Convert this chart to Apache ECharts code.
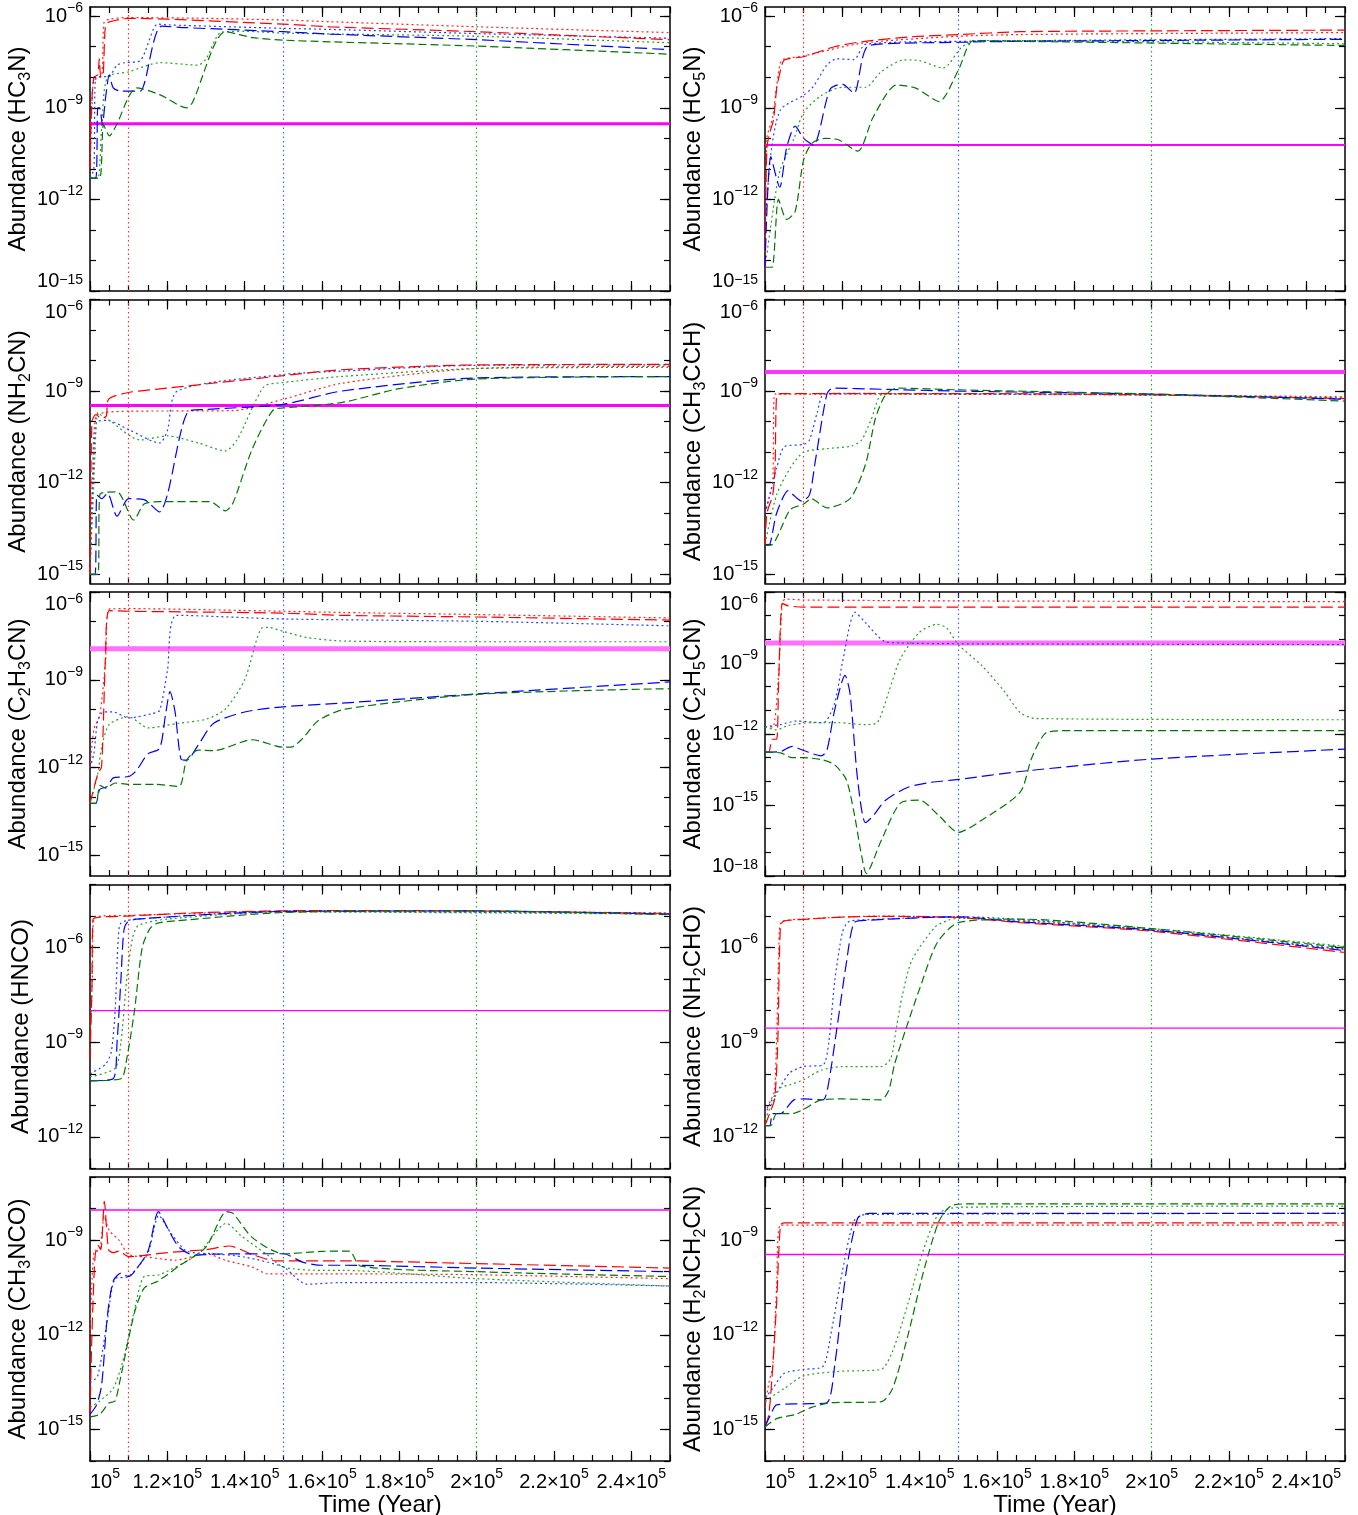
<!DOCTYPE html>
<html><head><meta charset="utf-8">
<script src="https://cdn.jsdelivr.net/npm/echarts@6/dist/echarts.min.js"></script>
<style>html,body{margin:0;padding:0;background:#fff}#c{width:1358px;height:1515px}</style>
</head><body><div id="c"></div>
<script>
// ---------------- DATA ----------------
const TIME_LABEL_TICKS = [100000,120000,140000,160000,180000,200000,220000,240000];
const MARKER_TIMES = [110000,150000,200000];
const MOLECULES = [['HC','3','N'],['HC','5','N'],['NH','2','CN'],['CH','3','CCH'],['C','2','H','3','CN'],['C','2','H','5','CN'],['HNCO'],['NH','2','CHO'],['CH','3','NCO'],['H','2','NCH','2','CN']];
const Y_RANGES = [[1e-15,2e-6],[1e-15,2e-6],[5e-16,1e-6],[5e-16,1e-6],[2e-16,1e-6],[1e-18,1e-6],[1e-13,1e-4],[1e-13,1e-4],[1e-16,1e-7],[1e-16,1e-7]];
const Y_LABEL_DECADES = [[-15,-12,-9,-6],[-15,-12,-9,-6],[-15,-12,-9,-6],[-15,-12,-9,-6],[-15,-12,-9,-6],[-18,-15,-12,-9,-6],[-12,-9,-6],[-12,-9,-6],[-15,-12,-9],[-15,-12,-9]];
const OBS_VALUES = [3e-10,6e-11,3.4e-10,4.2e-9,1.15e-8,7e-9,1e-8,2.8e-9,9e-9,3.5e-10];

// HC3N
const HC3N_RD=[[100e3,1e-11],[100.4e3,1e-9],[101e3,1e-8],[102e3,1.2e-8],[102.4e3,4e-8],[102.8e3,1e-8],[103.4e3,1.2e-8],[104e3,5e-7],[105e3,6.5e-7],[110e3,8.5e-7],[120e3,8e-7],[150e3,5.5e-7],[162e3,4.5e-7],[200e3,3.1e-7],[250e3,1.7e-7]];
const HC3N_Rd=[[100e3,1e-11],[100.5e3,1e-9],[101e3,8e-9],[103e3,1.1e-8],[103.6e3,6e-7],[105e3,8e-7],[110e3,9e-7],[130e3,8.5e-7],[150e3,7.5e-7],[162e3,6.6e-7],[200e3,4.5e-7],[250e3,2.9e-7]];
const HC3N_BD=[[100e3,5e-12],[101.5e3,5e-12],[102e3,1e-9],[102.5e3,1e-9],[103.2e3,2.8e-10],[104e3,2e-9],[105e3,1.2e-8],[106e3,4.5e-9],[108e3,3.5e-9],[113e3,3.5e-9],[114e3,6e-9],[118.5e3,4.7e-7],[125e3,4.2e-7],[150e3,3.1e-7],[162e3,2.6e-7],[200e3,1.7e-7],[250e3,8e-8]];
const HC3N_Bd=[[100e3,5e-12],[101e3,1e-11],[101.5e3,1e-8],[105e3,1.1e-8],[107e3,2.5e-8],[109e3,3e-8],[113e3,3.5e-8],[117.5e3,5.5e-7],[120e3,5.2e-7],[150e3,4e-7],[162e3,3.7e-7],[200e3,2.7e-7],[250e3,1.9e-7]];
const HC3N_GD=[[100e3,5e-12],[102.5e3,5e-12],[103.5e3,2.8e-10],[105e3,1.2e-10],[107e3,3e-10],[110e3,2.3e-9],[112e3,4.5e-9],[118e3,2.7e-9],[125e3,1e-9],[126.5e3,1.5e-9],[135e3,3.1e-7],[142e3,2e-7],[150e3,1.65e-7],[162e3,1.45e-7],[200e3,1.05e-7],[250e3,5.7e-8]];
const HC3N_Gd=[[100e3,5e-12],[102e3,5e-12],[103e3,2e-10],[104.5e3,1e-8],[110e3,1.5e-8],[118e3,3e-8],[128e3,2.5e-8],[130e3,4e-8],[134e3,3e-7],[140e3,3.2e-7],[150e3,2.8e-7],[200e3,2.2e-7],[250e3,1.35e-7]];
// HC5N
const HC5N_RD=[[100e3,6e-15],[100.5e3,5e-11],[101.5e3,2e-10],[102.2e3,4e-10],[103e3,4e-9],[104e3,1.7e-8],[105e3,3.7e-8],[110e3,4.7e-8],[118e3,1e-7],[125e3,1.45e-7],[137.5e3,2.1e-7],[150e3,2.5e-7],[166e3,3.1e-7],[200e3,3.3e-7],[250e3,3.5e-7]];
const HC5N_Rd=[[100e3,6e-15],[100.5e3,1e-10],[102e3,5e-10],[103e3,5e-9],[104e3,3e-8],[105e3,4e-8],[110e3,5e-8],[125e3,1.3e-7],[150e3,2.2e-7],[166e3,2.5e-7],[200e3,2.7e-7],[250e3,2.9e-7]];
const HC5N_BD=[[100e3,6e-15],[101.5e3,2.5e-11],[103.8e3,2.5e-12],[105.6e3,5e-11],[107.8e3,2.5e-10],[110e3,1e-10],[112.5e3,6e-11],[116.8e3,4e-9],[120e3,6e-9],[123e3,3e-9],[127e3,1.1e-7],[150e3,1.4e-7],[166e3,1.5e-7],[250e3,1.75e-7]];
const HC5N_Bd=[[100e3,1e-13],[101.5e3,3e-11],[104e3,8.5e-10],[110e3,2.6e-9],[112.5e3,5e-9],[116e3,2.5e-8],[118.5e3,4e-8],[123e3,3.8e-8],[126e3,1.2e-7],[150e3,1.5e-7],[250e3,1.85e-7]];
const HC5N_GD=[[100e3,6e-15],[101.8e3,6e-15],[103.5e3,1e-12],[105.6e3,2.2e-13],[107.8e3,4e-13],[110e3,2e-11],[112.2e3,7e-11],[115.5e3,1e-10],[119e3,9e-11],[124e3,3.8e-11],[128e3,5e-10],[134e3,5.6e-9],[139e3,4.4e-9],[145e3,1.6e-9],[150e3,1.7e-8],[154e3,1.6e-7],[166e3,1.5e-7],[250e3,1.1e-7]];
const HC5N_Gd=[[100e3,6e-15],[102.5e3,1e-12],[104e3,1e-11],[107.5e3,1e-10],[110e3,7e-10],[114.5e3,2.5e-9],[120e3,4.7e-9],[126e3,4.7e-9],[130e3,1.5e-8],[136e3,3.7e-8],[140e3,3.5e-8],[146e3,2e-8],[151e3,1e-7],[155e3,1.6e-7],[250e3,1.25e-7]];
// NH2CN
const NH2CN_RD=[[100e3,1e-15],[100.5e3,1e-10],[101.5e3,1.7e-10],[103e3,1.3e-10],[104.2e3,1.5e-10],[104.8e3,5.4e-10],[110e3,9e-10],[120e3,1.25e-9],[150e3,3.2e-9],[165e3,5e-9],[200e3,7.2e-9],[250e3,7.5e-9]];
const NH2CN_Rd=[[100e3,1e-15],[100.6e3,1e-12],[101.5e3,1.5e-10],[104e3,2e-10],[110e3,2.2e-10],[137e3,2.3e-10],[150e3,5.4e-10],[165e3,1.8e-9],[200e3,5.5e-9],[250e3,6.5e-9]];
const NH2CN_BD=[[100e3,1e-15],[101.3e3,1e-15],[101.8e3,4e-13],[103e3,3e-13],[104.5e3,4.5e-13],[107e3,8e-14],[110e3,3e-13],[114e3,2.8e-13],[118e3,1.1e-13],[120e3,4e-13],[125.5e3,2.2e-10],[130e3,2.5e-10],[150e3,3.7e-10],[165e3,1e-9],[200e3,2.7e-9],[250e3,3e-9]];
const NH2CN_Bd=[[100e3,1e-15],[100.8e3,1e-12],[101.8e3,1e-10],[104.5e3,1.1e-10],[110e3,5.5e-11],[118e3,2e-11],[120e3,5e-11],[122.6e3,1e-9],[150e3,3.5e-9],[165e3,4.5e-9],[200e3,7e-9],[250e3,7.2e-9]];
const NH2CN_GD=[[100e3,1e-15],[102e3,1e-15],[102.6e3,4.3e-13],[107e3,5e-13],[111.3e3,6e-14],[114e3,2e-13],[118e3,2.4e-13],[131e3,2.4e-13],[135e3,1.2e-13],[137e3,2.2e-13],[142e3,1.3e-11],[147.5e3,2.5e-10],[150e3,2.8e-10],[165e3,4.2e-10],[180e3,1.2e-9],[200e3,2.5e-9],[250e3,3e-9]];
const NH2CN_Gd=[[100e3,1e-15],[101e3,1e-12],[102e3,2e-10],[103e3,1.6e-10],[105e3,1.1e-10],[113e3,2.5e-11],[120e3,3.4e-11],[128e3,2e-11],[135e3,1.1e-11],[138e3,2.5e-11],[145e3,1.4e-9],[150e3,1.9e-9],[165e3,3e-9],[200e3,5.5e-9],[250e3,6e-9]];
// CH3CCH
const CH3CCH_RD=[[100e3,9e-15],[100.5e3,1e-13],[102e3,4e-13],[102.6e3,3e-12],[103e3,7e-10],[104e3,8.3e-10],[150e3,8.3e-10],[200e3,7.5e-10],[250e3,5.7e-10]];
const CH3CCH_Rd=[[100e3,1e-13],[101e3,3e-13],[102e3,1e-12],[102.5e3,8e-10],[104e3,8e-10],[150e3,7.8e-10],[200e3,7.5e-10],[250e3,6.5e-10]];
const CH3CCH_BD=[[100e3,9e-15],[101e3,9e-15],[103e3,1e-13],[106e3,5.5e-13],[107.8e3,3.5e-13],[109.5e3,2.5e-13],[111.5e3,4e-13],[113e3,5e-12],[116e3,8e-10],[117.5e3,1.25e-9],[130e3,1.15e-9],[150e3,1e-9],[200e3,8e-10],[250e3,5.4e-10]];
const CH3CCH_Bd=[[100e3,1e-13],[101e3,3e-13],[103e3,3e-12],[105e3,1.5e-11],[110e3,1.8e-11],[111.5e3,2.5e-11],[113.5e3,2e-10],[115e3,8e-10],[117e3,8.5e-10],[150e3,8e-10],[200e3,7.5e-10],[250e3,5.6e-10]];
const CH3CCH_GD=[[100e3,9e-15],[101.5e3,9e-15],[106.5e3,1.3e-13],[110e3,2e-13],[112e3,3e-13],[116e3,1.5e-13],[122e3,3e-13],[126e3,4e-12],[128.5e3,1.2e-10],[131e3,7e-10],[134e3,1.25e-9],[150e3,1.1e-9],[200e3,8e-10],[250e3,4.7e-10]];
const CH3CCH_Gd=[[100e3,1e-14],[103e3,4e-13],[106.5e3,3e-12],[110e3,1e-11],[116e3,1.3e-11],[122.5e3,1.6e-11],[125e3,2.5e-11],[127.5e3,1.2e-10],[130.5e3,8e-10],[150e3,8.2e-10],[200e3,7.5e-10],[250e3,6e-10]];
// C2H3CN
const C2H3CN_RD=[[100e3,6e-14],[102e3,6e-13],[103e3,1.1e-12],[104e3,6e-9],[105e3,2.3e-7],[110e3,2.2e-7],[150e3,1.9e-7],[165e3,1.6e-7],[200e3,1.4e-7],[250e3,1.1e-7]];
const C2H3CN_Rd=[[100e3,1e-12],[101e3,2e-11],[102.5e3,6e-11],[104e3,4e-9],[105e3,2.6e-7],[110e3,2.7e-7],[150e3,2.2e-7],[165e3,2e-7],[200e3,1.7e-7],[250e3,1.3e-7]];
const C2H3CN_BD=[[100e3,6e-14],[101.5e3,6e-14],[102.5e3,1.8e-13],[104.5e3,2.3e-13],[106e3,4.5e-13],[110e3,5e-13],[112e3,8e-13],[115e3,3e-12],[118e3,4.5e-12],[119.5e3,6e-11],[120.7e3,4e-10],[122e3,8e-11],[123.5e3,2e-12],[125e3,1.8e-12],[128e3,6e-12],[132e3,3.3e-11],[140e3,8e-11],[150e3,1.2e-10],[165e3,1.6e-10],[200e3,3.3e-10],[250e3,8.5e-10]];
const C2H3CN_Bd=[[100e3,1e-12],[101e3,3e-12],[102e3,4e-11],[103.5e3,8e-11],[106e3,8e-11],[110e3,5e-11],[116e3,7e-11],[118e3,9e-11],[120e3,2e-9],[122.5e3,1.6e-7],[150e3,1.2e-7],[200e3,1e-7],[250e3,7e-8]];
const C2H3CN_GD=[[100e3,6e-14],[101.5e3,6e-14],[102.6e3,2.5e-13],[104e3,2e-13],[106.5e3,3e-13],[110e3,2.7e-13],[117e3,2.7e-13],[123e3,2.3e-13],[125e3,1.8e-12],[128e3,4e-12],[132e3,3.8e-12],[142e3,9e-12],[150e3,5e-12],[152e3,5e-12],[155e3,1e-11],[159e3,4e-11],[166e3,1e-10],[200e3,3.2e-10],[250e3,5e-10]];
const C2H3CN_Gd=[[100e3,6e-14],[102e3,6e-13],[103e3,5e-12],[105e3,3e-11],[110e3,5.5e-11],[115e3,2.3e-11],[123e3,3.3e-11],[130e3,4.5e-11],[135e3,1e-10],[140e3,1e-9],[144.5e3,6e-8],[146e3,6.2e-8],[150e3,4.5e-8],[156e3,2.8e-8],[166e3,2.1e-8],[200e3,2e-8],[250e3,2e-8]];
// C2H5CN
const C2H5CN_RD=[[100e3,1.7e-13],[101e3,1.7e-13],[101.8e3,6e-13],[103e3,6e-13],[103.5e3,1e-10],[104.5e3,3.3e-7],[106e3,2.6e-7],[110e3,2.3e-7],[250e3,2.3e-7]];
const C2H5CN_Rd=[[100e3,2e-12],[102e3,2e-12],[103.5e3,3e-10],[104.5e3,4e-7],[105.5e3,5e-7],[110e3,4.6e-7],[150e3,4.2e-7],[250e3,3.9e-7]];
const C2H5CN_BD=[[100e3,1.7e-13],[104e3,1.8e-13],[107e3,3e-13],[110e3,2e-13],[114.5e3,1.2e-13],[116e3,2e-13],[118e3,1e-11],[120.7e3,3e-10],[122e3,5e-11],[124e3,1e-14],[126e3,1.8e-16],[128e3,3.5e-16],[131e3,1.5e-15],[137e3,5.6e-15],[143e3,9e-15],[150e3,1.2e-14],[166e3,2.6e-14],[200e3,8.7e-14],[250e3,2.3e-13]];
const C2H5CN_Bd=[[100e3,2e-12],[104e3,2.5e-12],[108e3,3.5e-12],[115e3,3e-12],[118e3,2e-11],[120e3,1e-9],[123.3e3,1.4e-7],[126e3,5e-8],[131e3,8e-9],[135e3,7e-9],[150e3,6.5e-9],[250e3,6e-9]];
const C2H5CN_GD=[[100e3,1.7e-13],[104e3,1.6e-13],[107e3,1e-13],[110e3,1e-13],[115e3,8e-14],[118e3,5e-14],[121e3,1.2e-14],[123e3,5e-16],[125e3,7e-18],[126.2e3,1.3e-18],[130e3,3e-17],[135e3,1.2e-15],[140e3,1.6e-15],[145e3,3.5e-16],[150e3,7e-17],[155.5e3,2e-16],[166e3,3.5e-15],[169e3,1e-13],[173e3,1.2e-12],[180e3,1.4e-12],[250e3,1.4e-12]];
const C2H5CN_Gd=[[100e3,2e-12],[103e3,1.5e-12],[106e3,2.3e-12],[112e3,3e-12],[119e3,3e-12],[126e3,2.5e-12],[129e3,3e-12],[132e3,6e-11],[135e3,1.5e-9],[140e3,2e-8],[144.5e3,4.3e-8],[147e3,3e-8],[150e3,6e-9],[156e3,8e-10],[162e3,6e-11],[166e3,8e-12],[170e3,4.5e-12],[250e3,4e-12]];
// HNCO
const HNCO_RD=[[100e3,3e-10],[100.5e3,5e-8],[100.8e3,8e-6],[110e3,1e-5],[130e3,1.3e-5],[160e3,1.5e-5],[200e3,1.45e-5],[250e3,1.2e-5]];
const HNCO_Rd=[[100e3,1e-9],[100.6e3,1e-7],[101e3,9e-6],[110e3,1.05e-5],[160e3,1.5e-5],[250e3,1.25e-5]];
const HNCO_BD=[[100e3,6e-11],[106e3,7e-11],[107e3,1e-9],[108e3,1e-7],[108.7e3,3e-6],[109.5e3,6e-6],[112e3,8e-6],[150e3,1.4e-5],[200e3,1.45e-5],[250e3,1.15e-5]];
const HNCO_Bd=[[100e3,1e-10],[104e3,2e-10],[105.5e3,5e-10],[106.5e3,1e-8],[107.3e3,2e-6],[108e3,6e-6],[112e3,8e-6],[150e3,1.4e-5],[250e3,1.2e-5]];
const HNCO_GD=[[100e3,6e-11],[108e3,7e-11],[109.5e3,3e-10],[111.5e3,1e-8],[113.5e3,1e-6],[115.5e3,4e-6],[117.5e3,6e-6],[122e3,7e-6],[150e3,1.3e-5],[200e3,1.45e-5],[250e3,1.1e-5]];
const HNCO_Gd=[[100e3,8e-11],[106.5e3,1.5e-10],[108e3,1e-9],[109.5e3,1e-7],[111e3,2e-6],[112.5e3,5e-6],[120e3,8e-6],[150e3,1.35e-5],[250e3,1.15e-5]];
// NH2CHO
const NH2CHO_RD=[[100e3,2.3e-12],[101.3e3,6e-12],[102.5e3,1.6e-11],[103.3e3,1e-9],[104e3,5e-6],[105e3,7e-6],[110e3,7.8e-6],[120e3,9.3e-6],[130e3,9.8e-6],[150e3,9e-6],[166e3,6.2e-6],[200e3,3.3e-6],[250e3,7e-7]];
const NH2CHO_Rd=[[100e3,6e-12],[101.3e3,1.3e-11],[102.5e3,3e-11],[103.5e3,3e-7],[104e3,6e-6],[110e3,8e-6],[130e3,1e-5],[150e3,9e-6],[200e3,3.5e-6],[250e3,8.5e-7]];
const NH2CHO_BD=[[100e3,2.3e-12],[101.2e3,2.3e-12],[102e3,5.5e-12],[104e3,5.5e-12],[107.5e3,1.5e-11],[110e3,1.6e-11],[115e3,1.5e-11],[116.3e3,4e-11],[118.6e3,2.8e-9],[121e3,3e-7],[123e3,6e-6],[126e3,7.3e-6],[150e3,9.5e-6],[166e3,6.5e-6],[200e3,3.6e-6],[250e3,8e-7]];
const NH2CHO_Bd=[[100e3,5e-12],[101.5e3,1.3e-11],[104e3,4e-11],[106.5e3,1.1e-10],[110e3,1.7e-10],[115e3,1.9e-10],[116.5e3,1e-9],[118e3,8e-8],[120e3,3e-6],[121.5e3,6.5e-6],[125e3,7.5e-6],[150e3,9.5e-6],[200e3,3.6e-6],[250e3,9e-7]];
const NH2CHO_GD=[[100e3,2.3e-12],[101.5e3,2.3e-12],[103e3,5.5e-12],[107e3,5.5e-12],[110e3,7.5e-12],[114.5e3,1.5e-11],[120e3,1.6e-11],[130e3,1.5e-11],[132e3,3e-11],[133.5e3,2e-10],[136.5e3,2.8e-9],[140e3,5e-8],[144.5e3,1.4e-6],[150e3,6.2e-6],[166e3,8e-6],[200e3,4e-6],[250e3,1e-6]];
const NH2CHO_Gd=[[100e3,3.5e-12],[102e3,1.3e-11],[104e3,3.6e-11],[106.5e3,4.5e-11],[110e3,6.5e-11],[114.5e3,1.3e-10],[120e3,1.7e-10],[130e3,1.7e-10],[132.5e3,3e-10],[134e3,3e-9],[135.5e3,3e-8],[138e3,4e-7],[144e3,4.5e-6],[147.5e3,7.5e-6],[150e3,8.5e-6],[200e3,4e-6],[250e3,1.1e-6]];
// CH3NCO
const CH3NCO_RD=[[100e3,3e-15],[100.5e3,1e-12],[101.3e3,3e-10],[102e3,7e-10],[102.8e3,5e-10],[103.7e3,1.7e-8],[104.8e3,5e-10],[106e3,4e-10],[107.5e3,4.5e-10],[110e3,3e-10],[120e3,4e-10],[130e3,5e-10],[136e3,6.5e-10],[142e3,3.5e-10],[148e3,2.2e-10],[165e3,2.2e-10],[200e3,1.8e-10],[250e3,1.3e-10]];
const CH3NCO_Rd=[[100e3,1e-12],[101e3,4e-10],[102.5e3,5e-10],[103.7e3,5.6e-9],[105e3,2e-9],[107.5e3,1e-9],[110e3,3.5e-10],[115e3,2.9e-10],[122e3,2.3e-10],[130e3,3.7e-10],[135e3,2.3e-10],[142e3,1.4e-10],[146e3,8.5e-11],[165e3,8.5e-11],[200e3,8e-11],[250e3,6e-11]];
const CH3NCO_BD=[[100e3,3e-15],[101.7e3,6e-15],[103e3,2.5e-14],[104.5e3,4e-12],[106e3,5e-11],[108e3,9e-11],[110e3,7e-11],[111.5e3,1e-10],[115e3,4.5e-10],[117.7e3,8e-9],[120e3,2.5e-9],[123e3,6e-10],[127e3,3.3e-10],[132e3,3.6e-10],[150e3,3.7e-10],[155e3,2e-10],[160e3,1.6e-10],[165e3,1.6e-10],[200e3,1.3e-10],[250e3,1e-10]];
const CH3NCO_Bd=[[100e3,3e-14],[102e3,5e-14],[104.5e3,3e-12],[106.5e3,6e-11],[110e3,7e-11],[115e3,4e-10],[117.8e3,6e-9],[121e3,1.6e-9],[125e3,4.5e-10],[132e3,3.7e-10],[140e3,2.9e-10],[150e3,1.4e-10],[156e3,4e-11],[165e3,4.5e-11],[200e3,4.5e-11],[250e3,3.5e-11]];
const CH3NCO_GD=[[100e3,2.5e-15],[102.5e3,3e-15],[105e3,7e-15],[106.5e3,8e-15],[108e3,5e-14],[111.5e3,5e-12],[114e3,3e-11],[117.5e3,5e-11],[120e3,8e-11],[123e3,1.5e-10],[130e3,6e-10],[135.3e3,8e-9],[137e3,7e-9],[142e3,1.2e-9],[150e3,3.7e-10],[160e3,4.4e-10],[167e3,4.5e-10],[170e3,1.5e-10],[200e3,1e-10],[250e3,7e-11]];
const CH3NCO_Gd=[[100e3,5e-15],[102.5e3,8e-15],[106e3,2e-14],[108.5e3,1.5e-13],[111.5e3,6e-12],[114e3,7e-11],[118e3,8e-11],[128e3,3.7e-10],[135.3e3,3.4e-9],[139e3,1.4e-9],[146e3,3.3e-10],[150e3,1.4e-10],[160e3,1.1e-10],[165e3,1.1e-10],[200e3,6e-11],[250e3,3.5e-11]];
// H2NCH2CN
const H2NCH2CN_RD=[[100e3,1.2e-15],[101e3,3e-15],[102e3,1e-13],[103e3,1e-11],[104e3,3e-9],[105e3,3.5e-9],[250e3,3.5e-9]];
const H2NCH2CN_Rd=[[100e3,5e-15],[101e3,3e-14],[102e3,1e-13],[103e3,3e-11],[104e3,3e-9],[250e3,3e-9]];
const H2NCH2CN_BD=[[100e3,1.2e-15],[101.5e3,3e-15],[103e3,6e-15],[110e3,6.5e-15],[116e3,7e-15],[118e3,1e-13],[121e3,1e-10],[124e3,5e-9],[127e3,7e-9],[250e3,7e-9]];
const H2NCH2CN_Bd=[[100e3,1e-14],[102e3,2e-14],[105e3,6e-14],[110e3,8e-14],[115e3,1e-13],[117e3,1e-12],[120e3,1e-10],[123e3,4e-9],[126e3,6.5e-9],[250e3,7e-9]];
const H2NCH2CN_GD=[[100e3,1.2e-15],[103e3,2.2e-15],[108e3,3e-15],[112e3,5e-15],[117e3,7e-15],[130e3,7.5e-15],[133e3,2e-14],[137e3,1e-12],[141e3,1e-10],[145e3,4e-9],[148e3,1.2e-8],[152e3,1.4e-8],[250e3,1.4e-8]];
const H2NCH2CN_Gd=[[100e3,8e-15],[105e3,2e-14],[110e3,5e-14],[120e3,7e-14],[130e3,8e-14],[133e3,3e-13],[137e3,1e-11],[141e3,5e-10],[145e3,7e-9],[150e3,1.1e-8],[250e3,1.2e-8]];

const MODEL_SETS = [
  [HC3N_RD,HC3N_Rd,HC3N_BD,HC3N_Bd,HC3N_GD,HC3N_Gd],
  [HC5N_RD,HC5N_Rd,HC5N_BD,HC5N_Bd,HC5N_GD,HC5N_Gd],
  [NH2CN_RD,NH2CN_Rd,NH2CN_BD,NH2CN_Bd,NH2CN_GD,NH2CN_Gd],
  [CH3CCH_RD,CH3CCH_Rd,CH3CCH_BD,CH3CCH_Bd,CH3CCH_GD,CH3CCH_Gd],
  [C2H3CN_RD,C2H3CN_Rd,C2H3CN_BD,C2H3CN_Bd,C2H3CN_GD,C2H3CN_Gd],
  [C2H5CN_RD,C2H5CN_Rd,C2H5CN_BD,C2H5CN_Bd,C2H5CN_GD,C2H5CN_Gd],
  [HNCO_RD,HNCO_Rd,HNCO_BD,HNCO_Bd,HNCO_GD,HNCO_Gd],
  [NH2CHO_RD,NH2CHO_Rd,NH2CHO_BD,NH2CHO_Bd,NH2CHO_GD,NH2CHO_Gd],
  [CH3NCO_RD,CH3NCO_Rd,CH3NCO_BD,CH3NCO_Bd,CH3NCO_GD,CH3NCO_Gd],
  [H2NCH2CN_RD,H2NCH2CN_Rd,H2NCH2CN_BD,H2NCH2CN_Bd,H2NCH2CN_GD,H2NCH2CN_Gd]
];

// ---------------- STYLE / LAYOUT ----------------
const FONT = "'Liberation Sans', Arial, Helvetica, sans-serif";
const X_MIN = 100000, X_MAX = 250000;
const LINE_STYLES = [
  {color:'#ff0000', type:[12,5]},
  {color:'#ff2020', type:[2,3]},
  {color:'#0000ff', type:[12,5]},
  {color:'#2040ff', type:[2,3]},
  {color:'#007800', type:[8,4]},
  {color:'#22a022', type:[2,3]}
];
const MARKER_COLORS = ['#ff3030','#3a6cff','#2aa82a'];
const OBS_WIDTH = [3,2,3,4,5,5,1.3,1.3,1.3,1.3];
const OBS_COLOR = ['#ff00ff','#ff00ff','#ff00ff','#ff33ff','#ff70ff','#ff70ff','#ff00ff','#ff00ff','#ff00ff','#ff00ff'];
const EDGE_LABEL = [{min:'bottom'},{min:'bottom'},{max:'top'},{max:'top'},{max:'top'},{min:'bottom',max:'top'},{},{},{},{}];

const C = {fontFamily:FONT, color:'#000'};
const NUM_RICH = {
  b:Object.assign({fontSize:20, lineHeight:30}, C),
  s:Object.assign({fontSize:14, lineHeight:18, verticalAlign:'top'}, C),
  bb:Object.assign({fontSize:20, lineHeight:16, verticalAlign:'bottom'}, C),
  sb:Object.assign({fontSize:14, lineHeight:18, verticalAlign:'top', padding:[0,0,6,0]}, C),
  bt:Object.assign({fontSize:20, lineHeight:25}, C),
  st:Object.assign({fontSize:14, lineHeight:12, verticalAlign:'top'}, C)
};
const NAME_RICH = {
  n:Object.assign({fontSize:24, lineHeight:30}, C),
  u:Object.assign({fontSize:16, lineHeight:16, verticalAlign:'bottom'}, C)
};

function xFmt(v){ const m = v/1e5; return (m===1 ? '{b|10}' : '{b|'+(+m.toFixed(1))+'×10}') + '{s|5}'; }
function makeYFmt(ymin, ymax){
  return function(v){
    const t = '−' + Math.abs(Math.round(Math.log10(v)));
    if (Math.abs(v/ymin-1) < 1e-6) return '{bb|10}{sb|'+t+'}';
    if (Math.abs(v/ymax-1) < 1e-6) return '{bt|10}{st|'+t+'}';
    return '{b|10}{s|'+t+'}';
  };
}
function molName(parts){
  let s='{n|Abundance (}';
  parts.forEach((p,i)=>{ s += (i%2===1) ? '{u|'+p+'}' : '{n|'+p+'}'; });
  return s+'{n|)}';
}

const minorX = []; for (let t = X_MIN; t <= X_MAX; t += 5000) minorX.push(t);

const grids=[], xAxes=[], yAxes=[], series=[];
const frameLine = {show:true, onZero:false, lineStyle:{color:'#000', width:1.5}};
const tickStyle = {color:'#000', width:1.2};

MOLECULES.forEach((mol,i)=>{
  const col=i%2, row=Math.floor(i/2);
  grids.push({left: col? 765:90, width:580, top: 7+row*292.5, height:284, containLabel:false, outerBoundsMode:'none'});
  const [ymin,ymax] = Y_RANGES[i];
  const labVals = Y_LABEL_DECADES[i].map(d=>Number('1e'+d));
  const minorY = [];
  for (let d=Math.ceil(Math.log10(ymin)-1e-9); d<=Math.floor(Math.log10(ymax)+1e-9); d++) minorY.push(Number('1e'+d));
  const xb = xAxes.length, yb = yAxes.length;
  const bottomRow = row===4;
  xAxes.push({gridIndex:i, type:'value', min:X_MIN, max:X_MAX, position:'bottom',
    axisLine:frameLine, splitLine:{show:false},
    axisTick:{show:true, inside:true, length:10, customValues:TIME_LABEL_TICKS, lineStyle:tickStyle},
    axisLabel:{show:bottomRow, customValues:TIME_LABEL_TICKS, formatter:xFmt, rich:NUM_RICH, margin:6, alignMinLabel:'left'},
    name: bottomRow ? 'Time (Year)' : '', nameLocation:'middle', nameGap:30,
    nameTextStyle:{fontSize:24, fontFamily:FONT, color:'#000'}});
  xAxes.push({gridIndex:i, type:'value', min:X_MIN, max:X_MAX, position:'bottom',
    axisLine:{show:false}, splitLine:{show:false}, axisLabel:{show:false},
    axisTick:{show:true, inside:true, length:6, customValues:minorX, lineStyle:tickStyle}});
  xAxes.push({gridIndex:i, type:'value', min:X_MIN, max:X_MAX, position:'top',
    axisLine:frameLine, splitLine:{show:false}, axisLabel:{show:false},
    axisTick:{show:true, inside:true, length:10, customValues:TIME_LABEL_TICKS, lineStyle:tickStyle}});
  xAxes.push({gridIndex:i, type:'value', min:X_MIN, max:X_MAX, position:'top',
    axisLine:{show:false}, splitLine:{show:false}, axisLabel:{show:false},
    axisTick:{show:true, inside:true, length:6, customValues:minorX, lineStyle:tickStyle}});
  const edge = EDGE_LABEL[i];
  const yLab = {show:true, customValues:labVals, formatter:makeYFmt(ymin,ymax), rich:NUM_RICH, margin:7};
  if (edge.min) yLab.verticalAlignMinLabel = edge.min;
  if (edge.max) yLab.verticalAlignMaxLabel = edge.max;
  yAxes.push({gridIndex:i, type:'log', logBase:10, min:ymin, max:ymax, position:'left',
    axisLine:frameLine, splitLine:{show:false}, minorTick:{show:false},
    axisTick:{show:true, inside:true, length:10, customValues:labVals, lineStyle:tickStyle},
    axisLabel:yLab,
    name: molName(mol), nameLocation:'middle', nameGap:54, nameRotate:90,
    nameTextStyle:{rich:NAME_RICH, fontSize:24, fontFamily:FONT}});
  yAxes.push({gridIndex:i, type:'log', logBase:10, min:ymin, max:ymax, position:'left',
    axisLine:{show:false}, splitLine:{show:false}, axisLabel:{show:false},
    axisTick:{show:true, inside:true, length:6, customValues:minorY, lineStyle:tickStyle}});
  yAxes.push({gridIndex:i, type:'log', logBase:10, min:ymin, max:ymax, position:'right',
    axisLine:frameLine, splitLine:{show:false}, axisLabel:{show:false},
    axisTick:{show:true, inside:true, length:10, customValues:labVals, lineStyle:tickStyle}});
  yAxes.push({gridIndex:i, type:'log', logBase:10, min:ymin, max:ymax, position:'right',
    axisLine:{show:false}, splitLine:{show:false}, axisLabel:{show:false},
    axisTick:{show:true, inside:true, length:6, customValues:minorY, lineStyle:tickStyle}});

  series.push({type:'line', xAxisIndex:xb, yAxisIndex:yb, z:2, silent:true, symbol:'none',
    data:[[X_MIN, OBS_VALUES[i]],[X_MAX, OBS_VALUES[i]]],
    lineStyle:{color:OBS_COLOR[i], width:OBS_WIDTH[i]},
    markLine:{silent:true, symbol:['none','none'], label:{show:false}, z:1,
      data: MARKER_TIMES.map((t,k)=>({xAxis:t, lineStyle:{color:MARKER_COLORS[k], type:[1.5,3], width:1.2}}))}});
  MODEL_SETS[i].forEach((d,k)=>{
    series.push({type:'line', xAxisIndex:xb, yAxisIndex:yb, z:3+(k%2===0?1:0), silent:true, symbol:'none',
      smooth:0.25, data:d, lineStyle:{color:LINE_STYLES[k].color, type:LINE_STYLES[k].type, width:1.2}});
  });
});

const chart = echarts.init(document.getElementById('c'), null, {renderer:'canvas'});
chart.setOption({animation:false, backgroundColor:'#fff', grid:grids, xAxis:xAxes, yAxis:yAxes, series:series});
</script>
</body></html>
